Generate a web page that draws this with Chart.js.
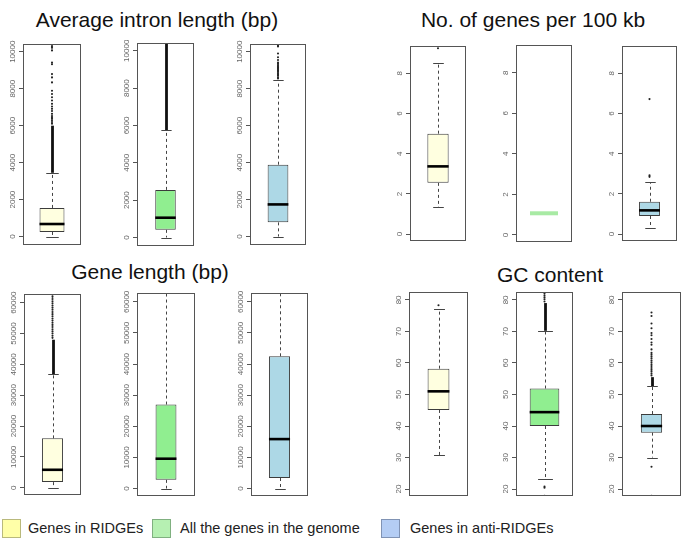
<!DOCTYPE html>
<html>
<head>
<meta charset="utf-8">
<script src="https://cdn.jsdelivr.net/npm/chart.js@4.4.0/dist/chart.umd.min.js"></script>
<style>
  body { margin: 0; background: #fff; width: 685px; height: 548px; position: relative; overflow: hidden;
         font-family: 'Liberation Sans', Arial, sans-serif; }
  canvas { position: absolute; }
  .title { position: absolute; font-size: 21px; line-height: 1; color: #111; white-space: nowrap;
           transform: translate(-50%, -50%); }
  .key { position: absolute; top: 519px; width: 17px; height: 17px; border: 1px solid; }
  .keytxt { position: absolute; top: 528px; font-size: 14.5px; line-height: 1; color: #222;
            white-space: nowrap; transform: translateY(-50%); }
</style>
</head>
<body>
<div class="title" style="left:157px;top:19px">Average intron length (bp)</div>
<div class="title" style="left:533px;top:19px">No. of genes per 100 kb</div>
<div class="title" style="left:150px;top:271px">Gene length (bp)</div>
<div class="title" style="left:550px;top:274px">GC content</div>

<div class="key" style="left:2px;background:#ffffa8;border-color:#b9b97c"></div>
<div class="keytxt" style="left:28px">Genes in RIDGEs</div>
<div class="key" style="left:152px;background:#b6f0b2;border-color:#80b080"></div>
<div class="keytxt" style="left:180px">All the genes in the genome</div>
<div class="key" style="left:381px;background:#b4cdf4;border-color:#8093b4"></div>
<div class="keytxt" style="left:410px">Genes in anti-RIDGEs</div>

<script>
// Groupes comparés
const groups = ['Genes in RIDGEs', 'All the genes in the genome', 'Genes in anti-RIDGEs'];

// Average intron length (bp)
const intronTicks = [0, 2000, 4000, 6000, 8000, 10000];
const intronLow = [0, 0, 0];
const intronQ1 = [250, 410, 770];
const intronMedian = [680, 1060, 1740];
const intronQ3 = [1550, 2550, 3890];
const intronHigh = [3450, 5750, 8450];
const intronDense = [[3450, 6000], [5750, 10500], null];
const intronOutliers = [
  [6110, 6200, 6290, 6380, 6450, 6520, 6640, 6790, 6910, 7040, 7180, 7360, 7540, 7710, 7890, 8340, 8610, 8790, 9320, 9410, 10070, 10210, 10300],
  [],
  [8550, 8620, 8700, 8760, 8830, 8900, 8950, 9000, 9050, 9100, 9150, 9220, 9280, 9350, 9420, 9550, 9700, 9900, 10280, 10320]
];

// Gene length (bp)
const geneTicks = [0, 10000, 20000, 30000, 40000, 50000, 60000];
const geneLow = [0, 0, 0];
const geneQ1 = [1800, 2800, 3400];
const geneMedian = [5800, 9600, 15900];
const geneQ3 = [16000, 27000, 42500];
const geneHigh = [36800, 64000, 64000];
const geneDense = [[36800, 48000], null, null];
const geneOutliers = [
  [48600, 49300, 50000, 50700, 51400, 52100, 52800, 53500, 54200, 54900, 55600, 56300, 57000, 57700, 58400, 59100, 59800, 60500, 61200, 61900, 62600],
  [],
  []
];

// No. of genes per 100 kb
const densTicks = [0, 2, 4, 6, 8];
const densLow = [1.35, 1.07, 0.31];
const densQ1 = [2.55, 1.07, 0.90];
const densMedian = [3.37, 1.07, 1.18];
const densQ3 = [5.0, 1.07, 1.61];
const densHigh = [8.5, 1.07, 2.58];
const densDense = [null, null, null];
const densOutliers = [[9.25], [], [2.85, 2.92, 6.72]];

// GC content
const gcTicks = [20, 30, 40, 50, 60, 70, 80];
const gcLow = [30.8, 23.1, 30.0];
const gcQ1 = [45.1, 40.0, 37.9];
const gcMedian = [51.0, 44.4, 40.0];
const gcQ3 = [58.2, 51.9, 43.8];
const gcHigh = [77.0, 70.2, 52.6];
const gcDense = [null, [70.2, 79.0], [52.6, 55.5]];
const gcOutliers = [
  [78.3],
  [79.5, 80.2, 80.8, 81.4, 82.0, 20.8, 20.4, 17.9],
  [56.0, 56.6, 57.2, 57.8, 58.4, 59.0, 59.6, 60.2, 60.8, 61.4, 62.0, 62.6, 63.2, 64.3, 65.8, 66.5, 67.6, 68.8, 69.5, 71.0, 72.5, 74.9, 76.0, 27.1, 17.9]
];

const fills = ['#ffffe0', '#90ee90', '#add8e6'];

// Panneaux : cadres [gauche, haut, droite, bas] en pixels de la page
const panels = [
  { ticks: intronTicks, min: -455, max: 10417, low: intronLow, q1: intronQ1, med: intronMedian, q3: intronQ3, high: intronHigh,
    dense: intronDense, out: intronOutliers, widths: [0.43, 0.36, 0.37],
    frames: [[23, 43, 82, 246], [137, 43, 194, 246], [250, 43, 307, 246]] },
  { ticks: geneTicks, min: -2380, max: 62830, low: geneLow, q1: geneQ1, med: geneMedian, q3: geneQ3, high: geneHigh,
    dense: geneDense, out: geneOutliers, widths: [0.37, 0.36, 0.37],
    frames: [[24, 293, 82, 496], [137, 293, 195, 496], [251, 293, 308, 496]] },
  { ticks: densTicks, min: -0.345, max: 9.364, low: densLow, q1: densQ1, med: densMedian, q3: densQ3, high: densHigh,
    dense: densDense, out: densOutliers, widths: [0.38, 0.50, 0.38],
    frames: [[410, 45, 467, 242], [516, 45, 572, 242], [622, 45, 678, 242]] },
  { ticks: gcTicks, min: 17.8, max: 82.51, low: gcLow, q1: gcQ1, med: gcMedian, q3: gcQ3, high: gcHigh,
    dense: gcDense, out: gcOutliers, widths: [0.37, 0.52, 0.36],
    frames: [[409, 291, 469, 497], [516, 291, 574, 497], [622, 291, 682, 497]] }
];

function seg(ctx, x1, y1, x2, y2) {
  ctx.beginPath(); ctx.moveTo(x1, y1); ctx.lineTo(x2, y2); ctx.stroke();
}

// Moustaches, médiane, cadre et étiquettes façon boxplot R
const boxParts = {
  id: 'boxParts',
  beforeDatasetsDraw(chart, args, o) {
    const ctx = chart.ctx, a = chart.chartArea, y = chart.scales.y;
    const bar = chart.getDatasetMeta(0).data[0];
    const x = Math.round(bar.x) + 0.5, w = bar.width;
    ctx.save();
    ctx.beginPath(); ctx.rect(a.left, a.top, a.right - a.left, a.bottom - a.top); ctx.clip();
    if (o.dense) {
      const y0 = y.getPixelForValue(o.dense[0]), y1 = y.getPixelForValue(o.dense[1]);
      ctx.fillStyle = '#111';
      ctx.fillRect(x - 1.4, y1, 2.8, y0 - y1);
    }
    ctx.strokeStyle = '#444'; ctx.lineWidth = 1;
    ctx.setLineDash([3, 3]);
    seg(ctx, x, y.getPixelForValue(o.q3), x, y.getPixelForValue(o.high));
    seg(ctx, x, y.getPixelForValue(o.q1), x, y.getPixelForValue(o.low));
    ctx.setLineDash([]);
    const hi = Math.round(y.getPixelForValue(o.high)) + 0.5, lo = Math.round(y.getPixelForValue(o.low)) + 0.5;
    seg(ctx, x - w / 4, hi, x + w / 4, hi);
    seg(ctx, x - w / 4, lo, x + w / 4, lo);
    ctx.restore();
  },
  afterDatasetsDraw(chart, args, o) {
    const ctx = chart.ctx, a = chart.chartArea, y = chart.scales.y;
    const bar = chart.getDatasetMeta(0).data[0];
    const x = bar.x, w = bar.width;
    const m = y.getPixelForValue(o.med);
    ctx.save();
    if (o.q1 === o.q3) {
      ctx.strokeStyle = '#a8eaa4'; ctx.lineWidth = 4;
    } else {
      ctx.strokeStyle = '#000'; ctx.lineWidth = 2.6;
    }
    seg(ctx, x - w / 2, m, x + w / 2, m);
    // cadre
    ctx.strokeStyle = '#555'; ctx.lineWidth = 1;
    ctx.strokeRect(a.left + 0.5, a.top + 0.5, a.right - a.left - 1, a.bottom - a.top - 1);
    // étiquettes verticales
    ctx.fillStyle = '#666';
    ctx.font = '8px "Liberation Sans", Arial, sans-serif';
    ctx.textAlign = 'center'; ctx.textBaseline = 'middle';
    y.ticks.forEach(t => {
      ctx.save();
      ctx.translate(a.left - 10, y.getPixelForValue(t.value));
      ctx.rotate(-Math.PI / 2);
      ctx.fillText(String(t.value), 0, 0);
      ctx.restore();
    });
    ctx.restore();
  }
};

function drawBox(p, i) {
  const [l, t, r, b] = p.frames[i];
  const padL = 26;
  const canvas = document.createElement('canvas');
  canvas.width = r - l + padL + 3;
  canvas.height = b - t + 6;
  canvas.style.left = (l - padL) + 'px';
  canvas.style.top = (t - 3) + 'px';
  document.body.appendChild(canvas);

  new Chart(canvas, {
    type: 'bar',
    data: {
      labels: [groups[i]],
      datasets: [{
        data: [[p.q1[i], p.q3[i]]],
        backgroundColor: fills[i],
        borderColor: '#3c3c3c',
        borderWidth: 1,
        borderSkipped: false,
        barPercentage: p.widths[i],
        categoryPercentage: 1
      }, {
        type: 'line',
        data: p.out[i].map(v => ({ x: groups[i], y: v })),
        showLine: false,
        pointRadius: 1.05,
        pointBackgroundColor: '#222',
        pointBorderWidth: 0,
        clip: 0
      }]
    },
    options: {
      responsive: false,
      animation: false,
      devicePixelRatio: 1,
      layout: { padding: { left: 0, right: 3, top: 3, bottom: 3 } },
      plugins: {
        legend: { display: false },
        tooltip: { enabled: false },
        boxParts: { low: p.low[i], q1: p.q1[i], med: p.med[i], q3: p.q3[i], high: p.high[i], dense: p.dense[i] }
      },
      scales: {
        x: { display: false },
        y: {
          min: p.min,
          max: p.max,
          afterBuildTicks: s => { s.ticks = p.ticks.map(v => ({ value: v })); },
          afterFit: s => { s.width = padL; },
          ticks: { display: false },
          grid: { drawOnChartArea: false, tickLength: 4, color: '#555' },
          border: { display: false }
        }
      }
    },
    plugins: [boxParts]
  });
}

panels.forEach(p => [0, 1, 2].forEach(i => drawBox(p, i)));
</script>
</body>
</html>
